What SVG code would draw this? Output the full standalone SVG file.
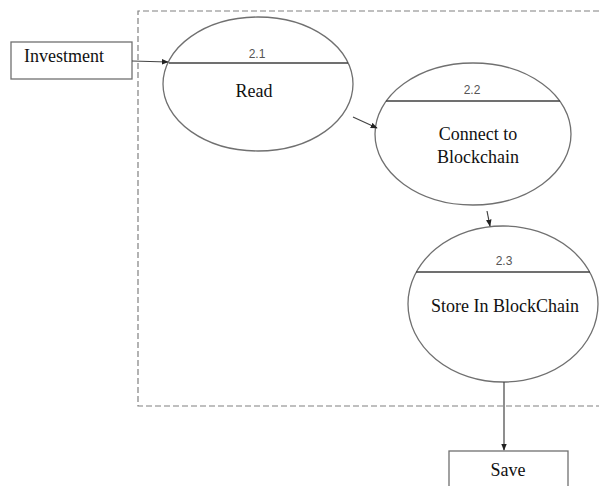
<svg xmlns="http://www.w3.org/2000/svg" width="599" height="486" viewBox="0 0 599 486">
  <style>
    .bubble { fill: #fff; stroke: #707070; stroke-width: 1.3; }
    .divider { stroke: #404040; stroke-width: 1.3; }
    .ent { fill: #fff; stroke: #707070; stroke-width: 1.3; }
    .lbl { font-family: "Liberation Serif", "Times New Roman", serif; font-size: 18px; fill: #111; text-anchor: middle; }
    .num { font-family: "Liberation Sans", Arial, sans-serif; font-size: 12px; fill: #555; text-anchor: middle; }
    .flow { stroke: #444; stroke-width: 1.2; fill: none; marker-end: url(#arr); }
    .boundary { stroke: #808080; stroke-width: 1.2; stroke-dasharray: 6 3; fill: none; }
  </style>
  <defs>
    <marker id="arr" viewBox="0 0 10 10" refX="9" refY="5" markerWidth="7" markerHeight="7" orient="auto" markerUnits="userSpaceOnUse">
      <path d="M0,1 L10,5 L0,9 z" fill="#222"/>
    </marker>
  </defs>
  <rect width="599" height="486" fill="#fff"/>

  <!-- process boundary -->
  <path class="boundary" d="M599,11 H138 V406 H599"/>

  <g id="investment">
    <rect class="ent" x="11" y="42" width="121" height="37"/>
    <text class="lbl" x="64" y="62">Investment</text>
  </g>

  <g id="p21">
    <ellipse class="bubble" cx="258" cy="84" rx="95" ry="67"/>
    <line class="divider" x1="169" y1="63" x2="348" y2="63"/>
    <text class="num" x="257" y="58">2.1</text>
    <text class="lbl" x="254" y="97">Read</text>
  </g>

  <g id="p22">
    <ellipse class="bubble" cx="473" cy="134" rx="98" ry="71"/>
    <line class="divider" x1="386" y1="101" x2="560" y2="101"/>
    <text class="num" x="472" y="94">2.2</text>
    <text class="lbl" x="478" y="140">Connect to</text>
    <text class="lbl" x="478" y="163">Blockchain</text>
  </g>

  <g id="p23">
    <ellipse class="bubble" cx="503" cy="304" rx="95" ry="78"/>
    <line class="divider" x1="416" y1="272" x2="590" y2="272"/>
    <text class="num" x="504" y="265">2.3</text>
    <text class="lbl" x="505" y="312">Store In BlockChain</text>
  </g>

  <g id="save">
    <rect class="ent" x="449" y="451" width="119" height="40"/>
    <text class="lbl" x="508" y="476">Save</text>
  </g>

  <g id="flows">
    <line class="flow" x1="132" y1="61" x2="168" y2="62"/>
    <line class="flow" x1="353" y1="117" x2="377" y2="128"/>
    <line class="flow" x1="487" y1="211" x2="490" y2="226"/>
    <line class="flow" x1="504" y1="382" x2="504" y2="450"/>
  </g>
</svg>
